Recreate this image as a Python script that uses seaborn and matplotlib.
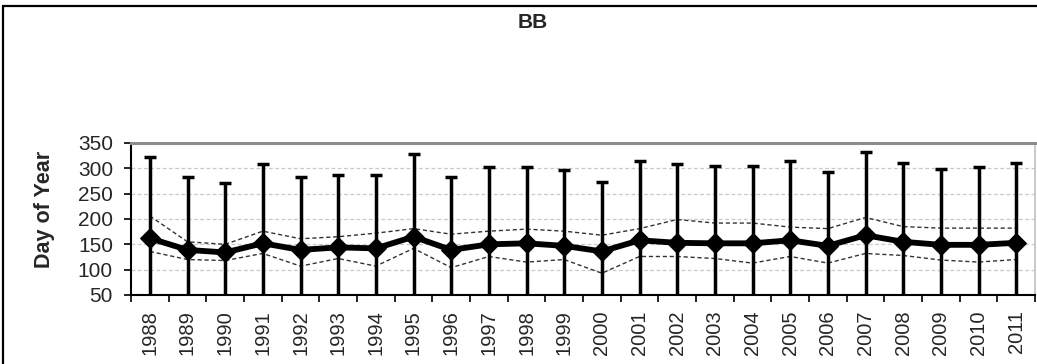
import matplotlib
matplotlib.use("Agg")
import matplotlib.pyplot as plt
import seaborn as sns
import pandas as pd
from matplotlib.patches import Rectangle

# values (day of year)
years = [str(y) for y in range(1988, 2012)]
mean_doy = [162, 139, 134, 152, 139, 144, 142, 165, 139, 150, 152, 147,
            136, 158, 153, 152, 152, 158, 147, 168, 155, 149, 149, 153]
max_doy = [323, 282, 272, 308, 282, 287, 287, 328, 282, 302, 302, 297,
           274, 314, 308, 305, 305, 314, 293, 332, 310, 299, 302, 310]
upper_doy = [206, 155, 150, 176, 161, 165, 172, 181, 170, 176, 180, 176,
             168, 181, 199, 192, 192, 184, 181, 203, 185, 182, 182, 182]
lower_doy = [136, 120, 118, 132, 107, 122, 107, 142, 104, 126, 115, 120,
             93, 126, 126, 122, 113, 126, 113, 132, 128, 119, 115, 120]
min_doy = [1, 1, 1, 1, 1, 1, 1, 1, 1, 1, 1, 1,
           1, 1, 1, 1, 1, 1, 1, 1, 1, 1, 1, 1]


def main():
    sns.set_style("white")
    plt.rcParams["font.family"] = ["Liberation Sans", "DejaVu Sans"]

    df = pd.DataFrame({
        "pos": range(len(years)),
        "mean": mean_doy,
        "upper": upper_doy,
        "lower": lower_doy,
    })

    fig = plt.figure(figsize=(10.37, 3.64), dpi=100)
    ax = fig.add_axes([131 / 1037, 1 - 295 / 364, (1035 - 131) / 1037, 152 / 364])

    # error bars from min to max
    err_lo = [m - lo for m, lo in zip(mean_doy, min_doy)]
    err_hi = [hi - m for m, hi in zip(mean_doy, max_doy)]
    ax.errorbar(df["pos"], df["mean"], yerr=[err_lo, err_hi], fmt="none",
                ecolor="black", elinewidth=2.5, capsize=4.5, capthick=2.5, zorder=3)

    # dashed envelopes
    sns.lineplot(data=df, x="pos", y="upper", ax=ax, color="#333333",
                 linewidth=1.0, linestyle=(0, (3, 2)), zorder=2)
    sns.lineplot(data=df, x="pos", y="lower", ax=ax, color="#333333",
                 linewidth=1.0, linestyle=(0, (3, 2)), zorder=2)

    # mean line
    sns.lineplot(data=df, x="pos", y="mean", ax=ax, color="black",
                 linewidth=4.2, marker="D", markersize=10.5, markeredgecolor="black",
                 zorder=4)

    ax.set_ylim(50, 350)
    ax.set_xlim(-0.5, len(years) - 0.5)
    ax.set_yticks(range(50, 351, 50))
    ax.yaxis.grid(True, color="#c8c8c8", linestyle=(0, (3, 2)), linewidth=0.9)
    ax.set_axisbelow(True)

    # category boundaries as major ticks, labels on minor ticks at centres
    ax.set_xticks([i - 0.5 for i in range(len(years) + 1)])
    ax.set_xticklabels([])
    ax.set_xticks(range(len(years)), minor=True)
    ax.set_xticklabels(years, minor=True, rotation=90, fontsize=14.5)
    ax.tick_params(axis="x", which="major", direction="out", length=5, width=1.2,
                   color="black", bottom=True)
    ax.tick_params(axis="x", which="minor", length=0, pad=11)
    ax.tick_params(axis="y", direction="out", length=5, width=1.2, color="black",
                   left=True, labelsize=15, pad=8)

    for side in ["left", "bottom"]:
        ax.spines[side].set_color("black")
        ax.spines[side].set_linewidth(1.5)
    ax.spines["top"].set_color("#8c8c8c")
    ax.spines["top"].set_linewidth(2.2)
    ax.spines["right"].set_color("#c0c0c0")
    ax.spines["right"].set_linewidth(1.2)

    ax.set_xlabel("")
    ax.set_ylabel("Day of Year", fontsize=15.5, fontweight="bold")
    ax.yaxis.set_label_coords(-0.084, 0.56)

    fig.text(533 / 1037, 1 - 23 / 364, "BB", ha="center", va="center",
             fontsize=15, fontweight="bold")

    # outer chart frame (left and top edges visible)
    fig.add_artist(Rectangle((3 / 1037, -0.2), 1.2, 1.2 - 6 / 364,
                             transform=fig.transFigure, fill=False,
                             edgecolor="black", linewidth=1.6))

    fig.savefig("out.png", dpi=100)
    plt.close(fig)


if __name__ == "__main__":
    main()
